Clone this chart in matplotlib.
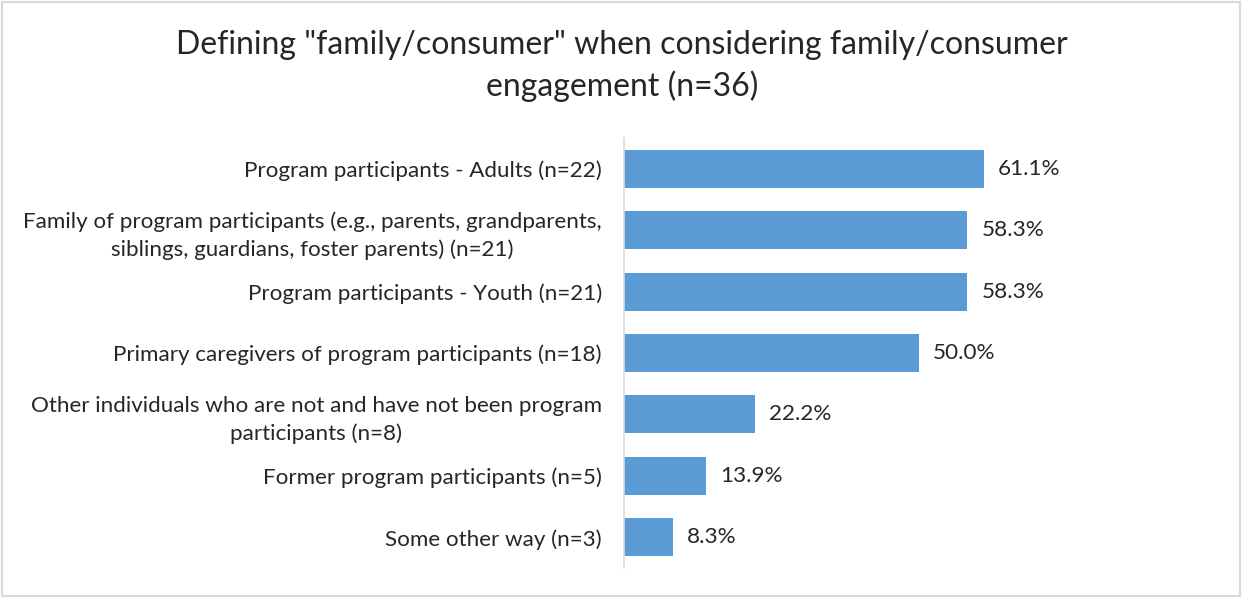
import matplotlib
matplotlib.use("Agg")
import matplotlib.pyplot as plt
from matplotlib.patches import Rectangle

plt.rcParams['font.family'] = ['Lato', 'DejaVu Sans']

categories = [
    "Program participants - Adults (n=22)",
    "Family of program participants (e.g., parents, grandparents,\nsiblings, guardians, foster parents) (n=21)",
    "Program participants - Youth (n=21)",
    "Primary caregivers of program participants (n=18)",
    "Other individuals who are not and have not been program\nparticipants (n=8)",
    "Former program participants (n=5)",
    "Some other way (n=3)",
]
values = [61.1, 58.3, 58.3, 50.0, 22.2, 13.9, 8.3]
value_labels = ["61.1%", "58.3%", "58.3%", "50.0%", "22.2%", "13.9%", "8.3%"]
title = 'Defining "family/consumer" when considering family/consumer\nengagement (n=36)'

W, H = 1242, 598
fig = plt.figure(figsize=(W / 100, H / 100), dpi=100)
fig.patches.append(Rectangle((2 / W, 2 / H), 1 - 4 / W, 1 - 4 / H, transform=fig.transFigure,
                             fill=False, edgecolor='#D9D9D9', linewidth=1.5))

ax = fig.add_axes([624 / W, 1 - 568 / H, (1213 - 624) / W, (568 - 138) / H])
ypos = list(range(len(categories)))
ax.barh(ypos, values, height=0.62, color='#5B9BD5')
ax.set_ylim(len(categories) - 0.5, -0.5)
ax.set_xlim(0, 100)
ax.set_yticks(ypos)
ax.set_yticklabels(categories, fontsize=16.1, color='#262626', multialignment='center',
                   linespacing=1.45)
ax.tick_params(axis='y', length=0, pad=16)
ax.set_xticks([])
for s in ['top', 'right', 'bottom']:
    ax.spines[s].set_visible(False)
ax.spines['left'].set_color('#D9D9D9')
ax.spines['left'].set_linewidth(1.2)

for y, v, lab in zip(ypos, values, value_labels):
    ax.annotate(lab, xy=(v, y), xytext=(14, 0), textcoords='offset pixels',
                va='center', ha='left', fontsize=16.2, color='#262626')

fig.text(622 / W, 1 - 66 / H, title, ha='center', va='center', fontsize=23,
         color='#262626', linespacing=1.38)

fig.savefig('out.png', dpi=100)
